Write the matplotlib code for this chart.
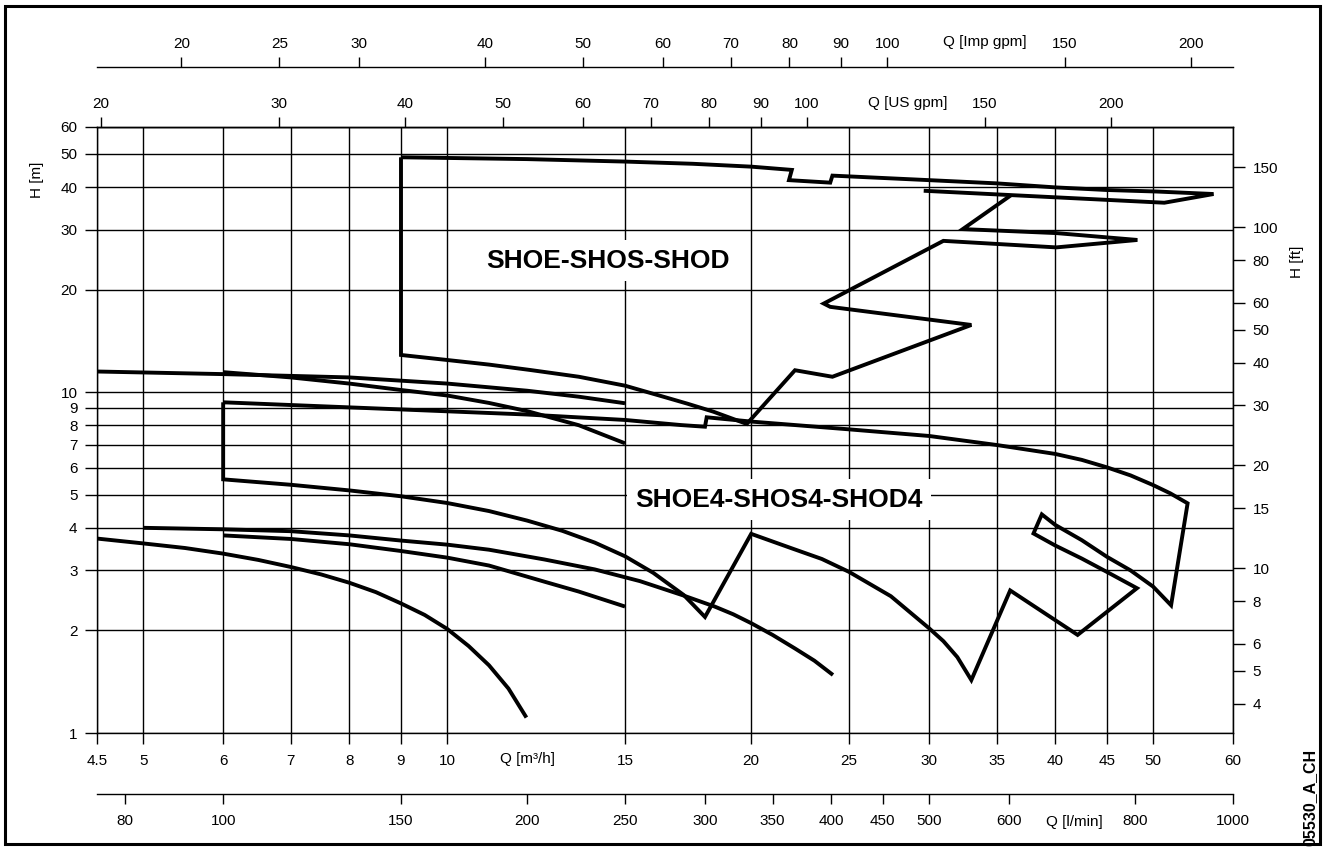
import matplotlib
matplotlib.use("Agg")
import matplotlib.pyplot as plt
import matplotlib.ticker as mticker
from matplotlib.patches import Rectangle

plt.rcParams['font.family'] = ['Liberation Sans', 'DejaVu Sans']

# 网格 / 刻度
q_ticks = [4.5, 5, 6, 7, 8, 9, 10, 15, 20, 25, 30, 35, 40, 45, 50, 60]
h_ticks = [1, 2, 3, 4, 5, 6, 7, 8, 9, 10, 20, 30, 40, 50, 60]
us_ticks = [20, 30, 40, 50, 60, 70, 80, 90, 100, 150, 200]
imp_ticks = [20, 25, 30, 40, 50, 60, 70, 80, 90, 100, 150, 200]
lmin_ticks = [80, 100, 150, 200, 250, 300, 350, 400, 450, 500, 600, 800, 1000]
ft_ticks = [4, 5, 6, 8, 10, 15, 20, 30, 40, 50, 60, 80, 100, 150]

# SHOE-SHOS-SHOD 范围 (two pieces)
env_a_q = [9, 12, 15, 17.5, 20, 21.94, 21.8, 23.95, 24.07, 30, 35, 40, 45, 50.4, 57.4, 51.3, 29.64]
env_a_h = [48.9, 48.3, 47.5, 46.8, 45.9, 44.9, 41.9, 41.2, 43.2, 41.9, 41.0, 39.9, 39.2, 38.8,
           38.15, 35.97, 39.0]
env_b_q = [36.15, 32.4, 40.1, 48.25, 40.1, 31.0, 23.6, 23.95, 33.04, 24.07, 22.1, 19.8,
           18.34, 17.3, 16.37, 15, 13.5, 12.08, 11, 10, 9, 9]
env_b_h = [37.8, 30.1, 29.3, 27.97, 26.6, 27.8, 18.2, 17.8, 15.75, 11.1, 11.6, 8.07,
           8.77, 9.25, 9.7, 10.45, 11.1, 11.62, 12.05, 12.43, 12.86, 48.9]

# 单泵曲线 (upper)
b45_q = [4.5, 6, 8, 10, 12, 13.5, 15]
b45_h = [11.5, 11.3, 11.05, 10.6, 10.1, 9.7, 9.28]
b6_q = [6, 7, 8, 9, 10, 11, 12, 13.5, 15]
b6_h = [11.45, 11.05, 10.6, 10.15, 9.78, 9.3, 8.8, 8.0, 7.08]

# SHOE4-SHOS4-SHOD4 范围
s4_q = [6, 7, 9, 12, 15, 17.03, 18.0, 18.07, 20, 25, 30, 35, 40, 42.5, 45, 47.5, 50, 52, 54.1,
        52.1, 50, 47.5, 45, 42.5, 40, 38.8, 38.07, 40, 42.5, 45, 48.2, 42.1, 36.1, 33.04,
        32, 31, 30, 27.5, 25, 23.5, 21.95, 20, 18.0, 17.15,
        16, 15, 14, 13, 12, 11, 10, 9, 8, 7, 6, 6]
s4_h = [9.34, 9.17, 8.9, 8.6, 8.29, 8.01, 7.92, 8.44, 8.2, 7.78, 7.44, 7.0, 6.59, 6.33, 6.02,
        5.7, 5.34, 5.05, 4.72,
        2.37, 2.69, 3.0, 3.29, 3.68, 4.08, 4.38, 3.85, 3.55, 3.25, 2.97, 2.66, 1.94, 2.62, 1.43,
        1.67, 1.86, 2.03, 2.52, 2.97, 3.24, 3.48, 3.84, 2.19, 2.54,
        2.95, 3.3, 3.62, 3.92, 4.2, 4.48, 4.73, 4.95, 5.15, 5.35, 5.55, 9.34]

# 单泵曲线 (lower)
c45_q = [4.5, 5, 5.5, 6, 6.5, 7, 7.5, 8, 8.5, 9, 9.5, 10, 10.5, 11, 11.5, 11.98]
c45_h = [3.72, 3.6, 3.49, 3.36, 3.22, 3.07, 2.92, 2.76, 2.59, 2.4, 2.22, 2.02, 1.8, 1.58,
         1.35, 1.11]
c5_q = [5, 6, 7, 8, 9, 10, 11, 12.48, 14, 15.52, 17.15, 18.4, 19.2, 20, 21, 22.1, 23.1, 24.1]
c5_h = [4.0, 3.96, 3.91, 3.8, 3.67, 3.57, 3.45, 3.23, 3.02, 2.79, 2.53, 2.35, 2.23, 2.1,
        1.94, 1.77, 1.63, 1.48]
c6_q = [6, 7, 8, 9, 10, 11, 12.48, 13.5, 15]
c6_h = [3.8, 3.71, 3.58, 3.42, 3.27, 3.1, 2.78, 2.6, 2.35]

US = 4.40287     # m3/h -> US gpm
IMP = 3.66615    # m3/h -> Imp gpm
LMIN = 1000 / 60  # m3/h -> l/min
FT = 3.28084     # m -> ft

W, H = 1323, 847


def px(x, y):
    return x / W, 1 - y / H


def lab(v):
    return str(v) if v != int(v) else str(int(v))


fig = plt.figure(figsize=(W / 100, H / 100), dpi=100)
ax = fig.add_axes([97 / W, 1 - 733 / H, 1136 / W, 606 / H])
ax.set_xscale('log')
ax.set_yscale('log')
ax.set_xlim(4.5, 60)
ax.set_ylim(1, 60)
ax.set_xticks(q_ticks, [lab(v) for v in q_ticks])
ax.set_yticks(h_ticks, [lab(v) for v in h_ticks])
ax.xaxis.set_minor_locator(mticker.NullLocator())
ax.yaxis.set_minor_locator(mticker.NullLocator())
ax.grid(True, color='black', linewidth=1.0)
for s in ax.spines.values():
    s.set_linewidth(1.0)
ax.tick_params(axis='x', direction='out', length=8, width=1.0, labelsize=11, pad=7)
ax.tick_params(axis='y', direction='out', length=8.5, width=1.0, labelsize=11, pad=5.5)

kw = dict(color='black', lw=2.8, solid_joinstyle='miter', solid_capstyle='butt', zorder=4)
for q, h in [(env_a_q, env_a_h), (env_b_q, env_b_h), (b45_q, b45_h), (b6_q, b6_h),
             (s4_q, s4_h), (c45_q, c45_h), (c5_q, c5_h), (c6_q, c6_h)]:
    ax.plot(q, h, **kw)

tb = dict(ha='center', va='center', fontsize=19, fontweight='bold', zorder=5,
          bbox=dict(facecolor='white', edgecolor='none', pad=6))
ax.text(14.43, 24.3, 'SHOE-SHOS-SHOD', **tb)
ax.text(21.3, 4.83, 'SHOE4-SHOS4-SHOD4', **tb)

# 副坐标轴
def add_x(loc, f, ticks, pad):
    sec = ax.secondary_xaxis(loc, functions=(lambda q: q * f, lambda g: g / f))
    sec.set_xticks(ticks, [lab(v) for v in ticks])
    sec.xaxis.set_minor_locator(mticker.NullLocator())
    sec.tick_params(axis='x', which='minor', top=False, bottom=False,
                    labeltop=False, labelbottom=False)
    sec.tick_params(axis='x', which='major', direction='out', length=7.5, width=1.0,
                    labelsize=11, pad=pad)
    for s in sec.spines.values():
        s.set_linewidth(1.0)
    return sec


add_x('top', US, us_ticks, 4)
add_x((733 - 67) / 606, IMP, imp_ticks, 4)
add_x((733 - 794) / 606, LMIN, lmin_ticks, 7)

sec_ft = ax.secondary_yaxis('right', functions=(lambda m: m * FT, lambda f: f / FT))
sec_ft.set_yticks(ft_ticks, [lab(v) for v in ft_ticks])
sec_ft.yaxis.set_minor_locator(mticker.NullLocator())
sec_ft.tick_params(axis='y', which='minor', left=False, right=False,
                   labelleft=False, labelright=False)
sec_ft.tick_params(axis='y', which='major', direction='out', length=8.5, width=1.0,
                   labelsize=11, pad=5.5)

# 坐标轴名称
fig.text(*px(528, 759), 'Q [m³/h]', ha='center', va='center', fontsize=11)
fig.text(*px(1074, 822), 'Q [l/min]', ha='center', va='center', fontsize=11)
fig.text(*px(908, 103), 'Q [US gpm]', ha='center', va='center', fontsize=11)
fig.text(*px(985, 42), 'Q [Imp gpm]', ha='center', va='center', fontsize=11)
fig.text(*px(37, 180), 'H [m]', ha='center', va='center', rotation=90, fontsize=11)
fig.text(*px(1297, 262), 'H [ft]', ha='center', va='center', rotation=90, fontsize=11)
fig.text(*px(1310, 797), '05530_A_CH', ha='center', va='center', rotation=90,
         fontsize=11.5, fontweight='bold')

# 外框
fig.patches.append(Rectangle(px(5, 844), 1315 / W, 838 / H, transform=fig.transFigure,
                             fill=False, lw=2.2, ec='black'))

fig.savefig('out.png', dpi=100)
